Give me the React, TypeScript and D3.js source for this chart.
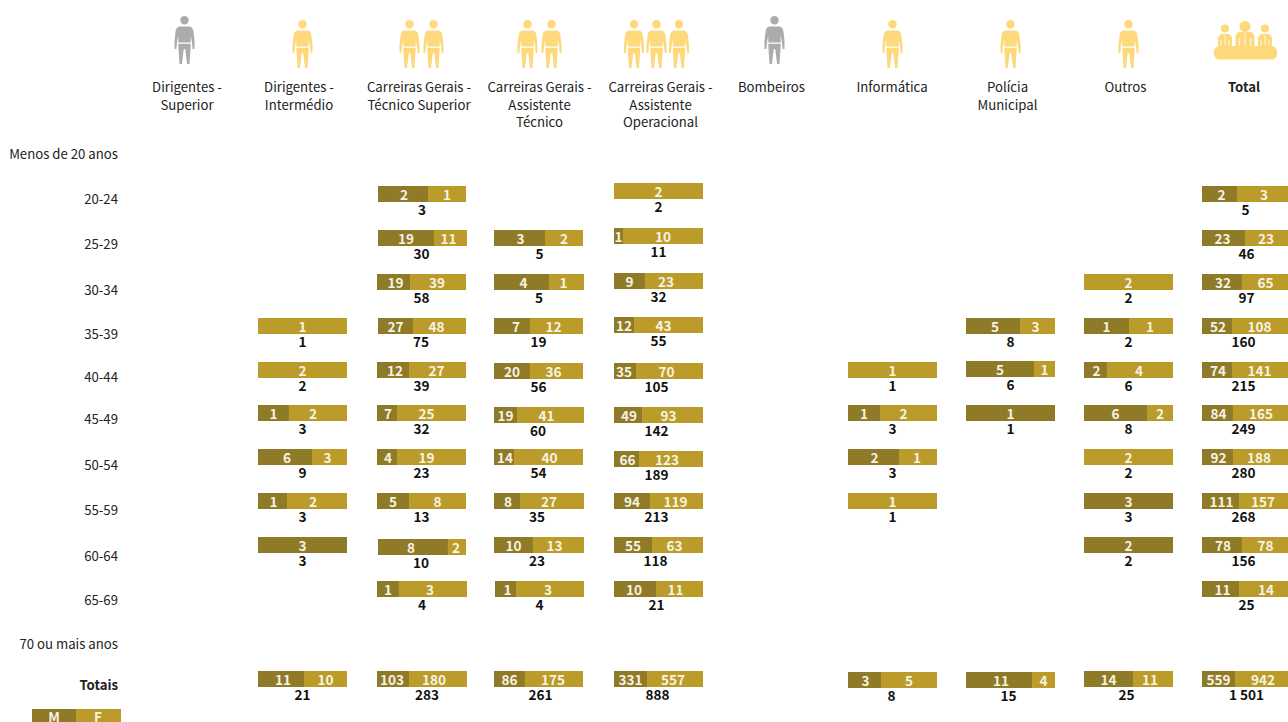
import React from "react";
import * as d3 from "d3";

// ---------- data ----------
const columnNames = ["Dirigentes - Superior", "Dirigentes - Intermédio", "Carreiras Gerais - Técnico Superior", "Carreiras Gerais - Assistente Técnico", "Carreiras Gerais - Assistente Operacional", "Bombeiros", "Informática", "Polícia Municipal", "Outros", "Total"];
const ageRows = ["Menos de 20 anos", "20-24", "25-29", "30-34", "35-39", "40-44", "45-49", "50-54", "55-59", "60-64", "65-69", "70 ou mais anos", "Totais"];

type V = number | null;
const _ = null;
//                        <20 20 25 30 35 40 45 50 55 60 65 70 Tot
const intermedioM: V[] = [_, _, _, _, _, _, 1, 6, 1, 3, _, _, 11];
const intermedioF: V[] = [_, _, _, _, 1, 2, 2, 3, 2, _, _, _, 10];
const intermedioShare: V[] = [_, _, _, _, _, _, 34.8, 60.7, 32.6, _, _, _, 51.7];

const tecSupM: V[] = [_, 2, 19, 19, 27, 12, 7, 4, 5, 8, 1, _, 103];
const tecSupF: V[] = [_, 1, 11, 39, 48, 27, 25, 19, 8, 2, 3, _, 180];
const tecSupShare: V[] = [_, 56.8, 62.9, 37.1, 39.8, 36, 22.5, 22.5, 36, 79.5, 24.4, _, 35.6];

const assTecM: V[] = [_, _, 3, 4, 7, 20, 19, 14, 8, 10, 1, _, 86];
const assTecF: V[] = [_, _, 2, 1, 12, 36, 41, 40, 27, 13, 3, _, 175];
const assTecShare: V[] = [_, _, 57.3, 61.1, 40.4, 40.4, 25.6, 22.5, 28.9, 43.3, 23.6, _, 34.8];

const assOpM: V[] = [_, _, 1, 9, 12, 35, 49, 66, 94, 55, 10, _, 331];
const assOpF: V[] = [_, 2, 10, 23, 43, 70, 93, 123, 119, 63, 11, _, 557];
const assOpShare: V[] = [_, _, 10.1, 34.8, 22.5, 24.7, 31.5, 28.1, 40.4, 42.7, 47.2, _, 37.1];

const informaticaM: V[] = [_, _, _, _, _, _, 1, 2, _, _, _, _, 3];
const informaticaF: V[] = [_, _, _, _, _, 1, 2, 1, 1, _, _, _, 5];
const informaticaShare: V[] = [_, _, _, _, _, _, 36, 57.3, _, _, _, _, 37.1];

const policiaM: V[] = [_, _, _, _, 5, 5, 1, _, _, _, _, _, 11];
const policiaF: V[] = [_, _, _, _, 3, 1, _, _, _, _, _, _, 4];
const policiaShare: V[] = [_, _, _, _, 60.7, 76.4, _, _, _, _, _, _, 74.2];

const outrosM: V[] = [_, _, _, _, 1, 2, 6, _, 3, 2, _, _, 14];
const outrosF: V[] = [_, _, _, 2, 1, 4, 2, 2, _, _, _, _, 11];
const outrosShare: V[] = [_, _, _, _, 50.6, 25.8, 70.8, _, _, _, _, _, 55.1];

const totalM: V[] = [_, 2, 23, 32, 52, 74, 84, 92, 111, 78, 11, _, 559];
const totalF: V[] = [_, 3, 23, 65, 108, 141, 165, 188, 157, 78, 14, _, 942];
const totalShare: V[] = [_, 39.3, 48.3, 44.9, 33.7, 33.7, 34.8, 34.8, 41.6, 44.9, 41.6, _, 37.1];

const iconCounts = [1, 1, 2, 2, 3, 1, 1, 1, 1, 0];
const grayColumns = [0, 5];

// ---------- style and small hand-placement offsets of the original ----------
const MALE = "#8f7a27";
const FEMALE = "#bb9c2a";
const YELLOW = "#fdd97c";
const GRAY = "#a9abac";
const FONT = "'Noto Sans CJK SC', 'Noto Sans', sans-serif";
const TEXT_SIZE = 13.2;

type Triple = [number, number, number];
// per row: shift of the M label, F label and total label
const intermedioShift: Record<number, Triple> = { 6: [0, -5, 0], 7: [2, -2, 0], 8: [1, -4, 0], 12: [2, 0, 0] };
const tecSupShift: Record<number, Triple> = { 1: [1, 0, 0], 2: [0, -2, -1], 3: [2, -1, 0], 4: [0, -3, -1], 5: [2, -1, 0], 6: [1, -5, 0], 7: [1, -5, 0], 8: [0, 0, 0], 9: [-2, -1, -1], 10: [0, -3, 0], 12: [-1, -4, 5] };
const assTecShift: Record<number, Triple> = { 2: [1, 0, 1], 3: [2, -3, 0], 4: [4, -3, 0], 5: [0, -3, 0], 6: [0, -4, -1], 7: [1, 1, 0], 8: [1, -3, -2], 9: [0, -4, -2], 10: [2, -2, 0], 12: [0, -1, 2] };
const assOpShift: Record<number, Triple> = { 1: [0, 0, 0], 3: [0, -8, 0], 4: [0, -5, 0], 5: [-1, -3, -2], 6: [1, -4, -2], 7: [1, -4, -2], 8: [0, -1, -2], 9: [0, -3, -3], 10: [-1, -4, -2], 12: [0, -2, -1] };
const informaticaShift: Record<number, Triple> = { 6: [0, -5, 0], 7: [1, -1, 0], 12: [1, 0, -1] };
const policiaShift: Record<number, Triple> = { 4: [2, -2, 0], 12: [2, 0, -2] };
const outrosShift: Record<number, Triple> = { 4: [0, -1, 0], 5: [1, -1, 0], 12: [0, -3, -2] };
const totalShift: Record<number, Triple> = { 1: [2, 0, -1], 2: [-1, -2, 0], 3: [1, -1, 0], 4: [1, -2, -3], 5: [1, -2, -3], 6: [1, -1, -3], 7: [1, -3, -3], 8: [1, -2, -3], 9: [1, -1, -3], 10: [2, 1, 0] };

// per row: vertical, left edge, right edge offsets of the bar
const tecSupNudge: Record<number, Triple> = { 1: [0, 2, 1], 2: [0, 2, 2], 3: [0, 1, 1], 4: [0, 2, 1], 5: [0, 1, 1], 6: [0, 1, 1], 7: [0, 1, 1], 8: [0, 1, 1], 9: [2, 2, 1], 10: [0, 1, 2], 12: [0, 1, 2] };
const assTecNudge: Record<number, Triple> = { 3: [0, 0, 1], 5: [1, 0, 0], 6: [2, 0, 1], 8: [0, 0, 1], 9: [0, 0, 1], 10: [0, 1, 1] };
const assOpNudge: Record<number, Triple> = { 1: [-3, 2, 2], 2: [-2, 2, 2], 3: [-1, 2, 2], 4: [-1, 2, 2], 5: [1, 2, 2], 6: [2, 2, 2], 7: [2, 2, 2], 8: [0, 2, 2], 9: [0, 2, 2], 10: [0, 2, 2], 12: [0, 2, 2] };
const informaticaNudge: Record<number, Triple> = { 12: [1, 0, 0] };
const policiaNudge: Record<number, Triple> = { 5: [-1, 0, 0], 12: [1, 0, 0] };

const rowLabelNudge = [4, 5, 6, 8, 8, 7, 6, 8, 9, 11, 11, 11, 6];
const headerNudge = [2.5, -3.5, -1.5, 1, 4, -3, -0.5, -3, -3, -2.5];
const iconSpacing = [0, 0, 24, 24, 22.5, 0, 0, 0, 0, 0];
const iconNudge = [0, 0, 1, 1, 0, 0, 0, 0, 0, 0];

const series = [
  { col: 1, m: intermedioM, f: intermedioF, share: intermedioShare, shift: intermedioShift, nudge: {} as Record<number, Triple> },
  { col: 2, m: tecSupM, f: tecSupF, share: tecSupShare, shift: tecSupShift, nudge: tecSupNudge },
  { col: 3, m: assTecM, f: assTecF, share: assTecShare, shift: assTecShift, nudge: assTecNudge },
  { col: 4, m: assOpM, f: assOpF, share: assOpShare, shift: assOpShift, nudge: assOpNudge },
  { col: 6, m: informaticaM, f: informaticaF, share: informaticaShare, shift: informaticaShift, nudge: informaticaNudge },
  { col: 7, m: policiaM, f: policiaF, share: policiaShare, shift: policiaShift, nudge: policiaNudge },
  { col: 8, m: outrosM, f: outrosF, share: outrosShare, shift: outrosShift, nudge: {} as Record<number, Triple> },
  { col: 9, m: totalM, f: totalF, share: totalShare, shift: totalShift, nudge: {} as Record<number, Triple> },
];

// ---------- scales ----------
const x = d3.scaleBand<number>().domain(d3.range(10)).range([125.5, 1305.5]).paddingInner(29 / 118).paddingOuter(29 / 236);
const BAR_H = 16;
const rowTop = d3.scaleLinear().domain([1, 10]).range([186, 581]);
const y = (i: number) => Math.round(rowTop(i)) + (i === 12 ? 2 : 0);
const fmtTotal = (n: number) => d3.format(",")(n).replace(/,/g, " ");

const PERSON_BODY = "M-5,10.5 L5,10.5 C7.5,11 8.6,12.5 9,16 L10,25 L10,33 L8.2,33 L7.3,25 L6.2,19.5 L6.2,26.6 L-6.2,26.6 L-6.2,19.5 L-7.3,25 L-8.2,33 L-10,33 L-10,25 L-9,16 C-8.6,12.5 -7.5,11 -5,10.5 Z M-6.2,27.7 L6.2,27.7 L6.1,31 L5,48 L2.6,48 L0.7,33 L-0.7,33 L-2.6,48 L-5,48 L-6.1,31 Z";

function Person({ cx, top, fill }: { cx: number; top: number; fill: string }) {
  return (
    <g transform={`translate(${cx},${top})`} fill={fill}>
      <circle cx={0} cy={4.3} r={4.2} />
      <path d={PERSON_BODY} />
    </g>
  );
}

function Seated({ cx, top, w }: { cx: number; top: number; w: number }) {
  const bottom = 50;
  return (
    <g>
      <circle cx={cx} cy={top - 5.5} r={w * 0.29} fill={YELLOW} />
      <path d={`M${cx - w / 2},${bottom} L${cx - w / 2},${top + 5} Q${cx - w / 2},${top} ${cx - w / 2 + 5},${top} L${cx + w / 2 - 5},${top} Q${cx + w / 2},${top} ${cx + w / 2},${top + 5} L${cx + w / 2},${bottom} Z`} fill={YELLOW} />
      {[-w / 3.4, 0, w / 3.4].map((d) => (
        <line key={d} x1={cx + d} x2={cx + d} y1={top + (d === 0 ? 1 : 6)} y2={bottom - 4} stroke="#fff" strokeWidth={1} opacity={0.8} />
      ))}
    </g>
  );
}

function Header({ col, name }: { col: number; name: string }) {
  const lines: Record<string, string[]> = {
    "Dirigentes - Superior": ["Dirigentes -", "Superior"],
    "Dirigentes - Intermédio": ["Dirigentes -", "Intermédio"],
    "Carreiras Gerais - Técnico Superior": ["Carreiras Gerais -", "Técnico Superior"],
    "Carreiras Gerais - Assistente Técnico": ["Carreiras Gerais -", "Assistente", "Técnico"],
    "Carreiras Gerais - Assistente Operacional": ["Carreiras Gerais -", "Assistente", "Operacional"],
    "Polícia Municipal": ["Polícia", "Municipal"],
  };
  const cx = x(col)! + x.bandwidth() / 2 + headerNudge[col];
  return (
    <text textAnchor="middle" fontSize={TEXT_SIZE} fill="#222" fontWeight={col === 9 ? 700 : 400}>
      {(lines[name] ?? [name]).map((l, i) => (
        <tspan key={l} x={cx} y={92 + i * 17.5}>{l}</tspan>
      ))}
    </text>
  );
}

function Cell({ s, row }: { s: (typeof series)[number]; row: number }) {
  const m = s.m[row];
  const f = s.f[row];
  if (m == null && f == null) return null;
  const [dy, dl, dr] = s.nudge[row] ?? [0, 0, 0];
  const [sm, sf, st] = s.shift[row] ?? [0, 0, 0];
  const x0 = x(s.col)! + dl;
  const x1 = x(s.col)! + x.bandwidth() + dr;
  const top = y(row) + dy;
  const share = d3.scaleLinear().domain([0, 100]).range([x0, x1]);
  const split = m != null && f != null ? share(s.share[row] ?? 50) : m != null ? x1 : x0;
  const total = (m ?? 0) + (f ?? 0);
  const labelStyle = { fontSize: 13.6, fontWeight: 600, fill: "#f7f3e3", textAnchor: "middle" as const };
  return (
    <g>
      {m != null && <rect x={x0} y={top} width={split - x0} height={BAR_H} fill={MALE} />}
      {f != null && <rect x={split} y={top} width={x1 - split} height={BAR_H} fill={FEMALE} />}
      {m != null && <text x={(x0 + split) / 2 + sm} y={top + 13.5} {...labelStyle}>{m}</text>}
      {f != null && <text x={(split + x1) / 2 + sf} y={top + 13.5} {...labelStyle}>{f}</text>}
      <text x={(x0 + x1) / 2 + st} y={top + 28.5} fontSize={13.6} fontWeight={700} fill="#111" textAnchor="middle">{fmtTotal(total)}</text>
    </g>
  );
}

export default function App() {
  return (
    <svg width={1288} height={722} viewBox="0 0 1288 722" style={{ position: "absolute", left: 0, top: 0, fontFamily: FONT, background: "#fff" }}>
      {columnNames.map((name, col) => {
        const cx = x(col)! + x.bandwidth() / 2 + iconNudge[col];
        const n = iconCounts[col];
        const gray = grayColumns.includes(col);
        return (
          <g key={name}>
            {d3.range(n).map((k) => (
              <Person key={k} cx={cx + (k - (n - 1) / 2) * iconSpacing[col]} top={gray ? 16 : 20} fill={gray ? GRAY : YELLOW} />
            ))}
            <Header col={col} name={name} />
          </g>
        );
      })}

      <g>
        <Seated cx={1225} top={34} w={14} />
        <Seated cx={1245} top={32} w={19} />
        <Seated cx={1265} top={34} w={14} />
        <rect x={1214} y={46} width={63} height={13.5} rx={5.5} fill={YELLOW} />
      </g>

      {ageRows.map((label, i) => (
        <text key={label} x={118} y={(i === 12 ? y(12) : Math.round(rowTop(i))) + 13 + rowLabelNudge[i]} textAnchor="end" fontSize={TEXT_SIZE} fontWeight={i === 12 ? 700 : 400} fill="#222">{label}</text>
      ))}

      {series.map((s) => (
        <g key={s.col}>
          {ageRows.map((_label, row) => <Cell key={row} s={s} row={row} />)}
        </g>
      ))}

      <rect x={32} y={709} width={44} height={16} fill={MALE} />
      <rect x={76} y={709} width={45} height={16} fill={FEMALE} />
      <text x={54} y={721.5} fontSize={13.6} fontWeight={600} fill="#f7f3e3" textAnchor="middle">M</text>
      <text x={98} y={721.5} fontSize={13.6} fontWeight={600} fill="#f7f3e3" textAnchor="middle">F</text>
    </svg>
  );
}
